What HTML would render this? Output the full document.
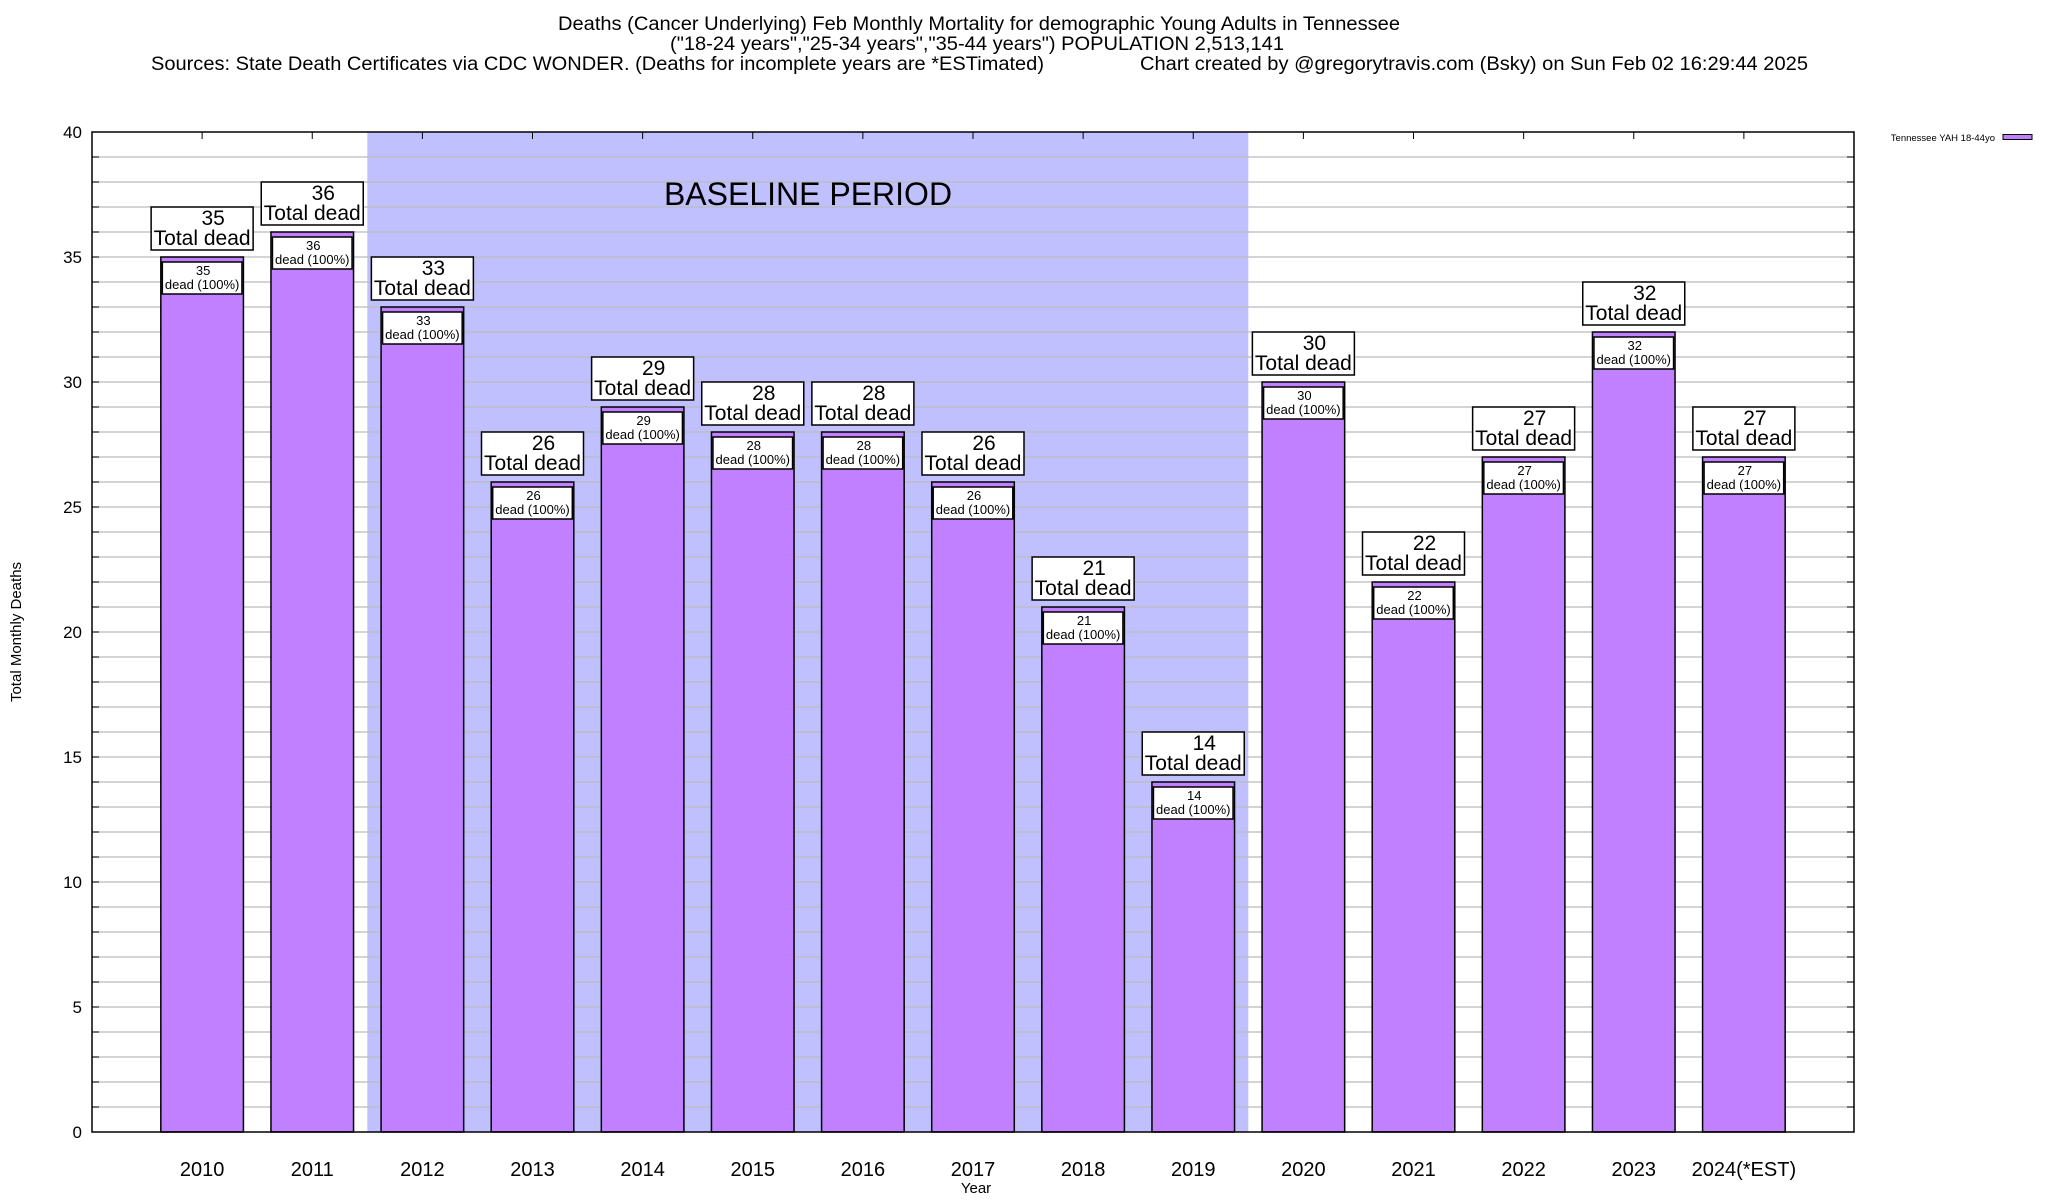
<!DOCTYPE html>
<html><head><meta charset="utf-8"><style>
html,body{margin:0;padding:0;background:#fff;}
svg{display:block;font-family:"Liberation Sans",Arial,sans-serif;}
</style></head><body>
<svg id="chart" width="2048" height="1200" viewBox="0 0 2048 1200">
<g>
<text x="979" y="30" font-size="19" text-anchor="middle" textLength="842" lengthAdjust="spacingAndGlyphs">Deaths (Cancer Underlying) Feb Monthly Mortality for demographic Young Adults in Tennessee</text>
<text x="977" y="50" font-size="19" text-anchor="middle" textLength="614" lengthAdjust="spacingAndGlyphs">("18-24 years","25-34 years","35-44 years") POPULATION 2,513,141</text>
<text x="151" y="70" font-size="19" textLength="893" lengthAdjust="spacingAndGlyphs">Sources: State Death Certificates via CDC WONDER. (Deaths for incomplete years are *ESTimated)</text>
<text x="1140" y="70" font-size="19" textLength="668" lengthAdjust="spacingAndGlyphs">Chart created by @gregorytravis.com (Bsky) on Sun Feb 02 16:29:44 2025</text>
</g>
<g id="plot"></g>
<text x="976" y="1193" font-size="15" text-anchor="middle">Year</text>
<text transform="translate(21,632) rotate(-90)" font-size="15" text-anchor="middle">Total Monthly Deaths</text>
<g>
<text x="1995" y="141" font-size="9.5" text-anchor="end">Tennessee YAH 18-44yo</text>
<rect x="2003" y="134.5" width="29" height="5" fill="#c080ff" stroke="#000" stroke-width="1"/>
</g>
</svg>
<script>
const categories = ["2010","2011","2012","2013","2014","2015","2016","2017","2018","2019","2020","2021","2022","2023","2024(*EST)"];
const values = [35,36,33,26,29,28,28,26,21,14,30,22,27,32,27];
const yTicks = [0,5,10,15,20,25,30,35,40];
const baselineRange = [1.5, 9.5];

const NS="http://www.w3.org/2000/svg";
const L=92,R=1854,T=132,B=1132,yMax=40;
const slot=(R-L)/16;
const xs=i=>L+(i+1)*slot;
const ys=v=>B-(v/yMax)*(B-T);
const g=document.getElementById('plot');
function el(tag,attrs,parent){const e=document.createElementNS(NS,tag);for(const k in attrs)e.setAttribute(k,attrs[k]);(parent||g).appendChild(e);return e;}

const sh=el('rect',{x:xs(baselineRange[0]),y:T,width:xs(baselineRange[1])-xs(baselineRange[0]),height:B-T,fill:'#c0c0ff'});


for(let v=1;v<yMax;v++){
  const ln=el('line',{x1:L,x2:R,y1:ys(v),y2:ys(v),stroke:'#bbbbbb','stroke-width':1.3});
  
  
  el('line',{x1:L,x2:L+7,y1:ys(v),y2:ys(v),stroke:'#000','stroke-width':1});
  el('line',{x1:R-7,x2:R,y1:ys(v),y2:ys(v),stroke:'#000','stroke-width':1});
}
const bt=el('text',{x:808,y:205,'font-size':32,'text-anchor':'middle'});
bt.textContent='BASELINE PERIOD';



yTicks.forEach(v=>{
  const t=el('text',{x:82,y:ys(v)+6,'font-size':17,'text-anchor':'end'});
  t.textContent=v;
  
  
});

const bw=slot*0.75;
categories.forEach((c,i)=>{
  const cx=xs(i),v=values[i],top=ys(v);
  el('line',{x1:cx,x2:cx,y1:T,y2:T+7,stroke:'#000','stroke-width':1});
  const bar=el('rect',{x:cx-bw/2,y:top,width:bw,height:B-top,fill:'#c080ff',stroke:'#000','stroke-width':1.5});
  
  
  const ib=el('rect',{x:cx-bw/2+1.5,y:top+5,width:bw-3,height:32,fill:'#fff',stroke:'#000','stroke-width':1.5});
  
  
  const t1=el('text',{x:cx+1,y:top+18,'font-size':13,'text-anchor':'middle'});t1.textContent=v;
  const t2=el('text',{x:cx,y:top+32,'font-size':13,'text-anchor':'middle'});t2.textContent='dead (100%)';
  const ob=el('rect',{x:cx-51,y:top-50,width:102,height:43,fill:'#fff',stroke:'#000','stroke-width':1.5});
  
  
  const t3=el('text',{x:cx+11,y:top-32,'font-size':21,'text-anchor':'middle'});t3.textContent=v;
  const t4=el('text',{x:cx,y:top-12,'font-size':21,'text-anchor':'middle'});t4.textContent='Total dead';
  const xl=el('text',{x:cx,y:1176,'font-size':20,'text-anchor':'middle'});xl.textContent=c;
  
  
});
const fr=el('rect',{x:L,y:T,width:R-L,height:B-T,fill:'none',stroke:'#000','stroke-width':1.5});


</script>
</body></html>
